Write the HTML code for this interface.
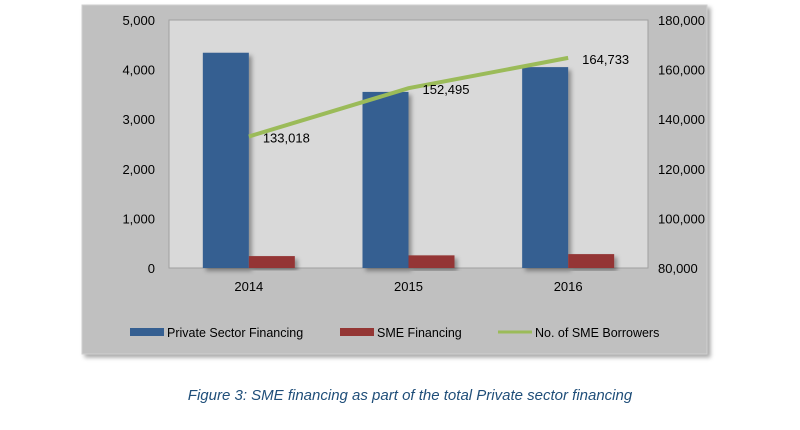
<!DOCTYPE html>
<html><head><meta charset="utf-8"><style>
body{margin:0;background:#fff;width:800px;height:425px;overflow:hidden;font-family:"Liberation Sans",sans-serif}
</style></head><body>
<svg width="800" height="425">
<defs><filter id="sh" x="-10%" y="-10%" width="130%" height="130%"><feDropShadow dx="3" dy="3" stdDeviation="2" flood-color="#000" flood-opacity="0.35"/></filter></defs>
<rect x="82" y="5" width="625" height="349" fill="#c0c0c0" stroke="#d0d0d0" filter="url(#sh)"/>
<rect x="169" y="20" width="479" height="248" fill="#d9d9d9" stroke="#a0a0a0"/>
<g id="g"></g>
<text x="410" y="400" text-anchor="middle" font-size="15" font-style="italic" fill="#1f4e79">Figure 3: SME financing as part of the total Private sector financing</text>
</svg>
<script>
const categories=["2014","2015","2016"];
const privateFin=[4340,3550,4050];
const smeFin=[240,255,280];
const borrowers=[133018,152495,164733];
const leftTicks=[0,1000,2000,3000,4000,5000];
const rightTicks=[80000,100000,120000,140000,160000,180000];
const ns="http://www.w3.org/2000/svg",g=document.getElementById('g');
const x0=169,pw=479,yb=268,yt=20;
const yL=v=>yb-(v/5000)*(yb-yt);
const yR=v=>yb-((v-80000)/100000)*(yb-yt);
const xc=i=>x0+pw/categories.length*(i+0.5);
function el(t,a,txt){const e=document.createElementNS(ns,t);for(const k in a)e.setAttribute(k,a[k]);if(txt!==undefined)e.textContent=txt;g.appendChild(e);return e;}
const fmt=v=>v.toLocaleString('en-US');
leftTicks.forEach(v=>{const e=el('text',{x:155,y:yL(v)+5,'text-anchor':'end','font-size':13,fill:'#000'},fmt(v));

});
rightTicks.forEach(v=>{const e=el('text',{x:658,y:yR(v)+5,'font-size':13,fill:'#000'},fmt(v));

});
const bw=46;
categories.forEach((c,i)=>{
const cx=xc(i);
const b1=el('rect',{x:cx-bw,y:yL(privateFin[i]),width:bw,height:yb-yL(privateFin[i]),fill:'#355f91',filter:'url(#sh)'});


const b2=el('rect',{x:cx,y:yL(smeFin[i]),width:bw,height:yb-yL(smeFin[i]),fill:'#943634',filter:'url(#sh)'});


const t=el('text',{x:cx,y:291,'text-anchor':'middle','font-size':13},c);


});
const pl=el('polyline',{points:borrowers.map((v,i)=>xc(i)+','+yR(v)).join(' '),fill:'none',stroke:'#9bbb59','stroke-width':4});


borrowers.forEach((v,i)=>{const t=el('text',{x:xc(i)+14,y:yR(v)+6,'font-size':13},fmt(v));

});
const leg=[["Private Sector Financing","#355f91",130,"rect"],["SME Financing","#943634",340,"rect"],["No. of SME Borrowers","#9bbb59",498,"line"]];
leg.forEach(l=>{
if(l[3]=="rect"){const r=el('rect',{x:l[2],y:328,width:34,height:8,fill:l[1]});}
else{const r=el('line',{x1:l[2],y1:332,x2:l[2]+34,y2:332,stroke:l[1],'stroke-width':3});}
const t=el('text',{x:l[2]+37,y:337,'font-size':12.5},l[0]);

});
</script>
</body></html>
